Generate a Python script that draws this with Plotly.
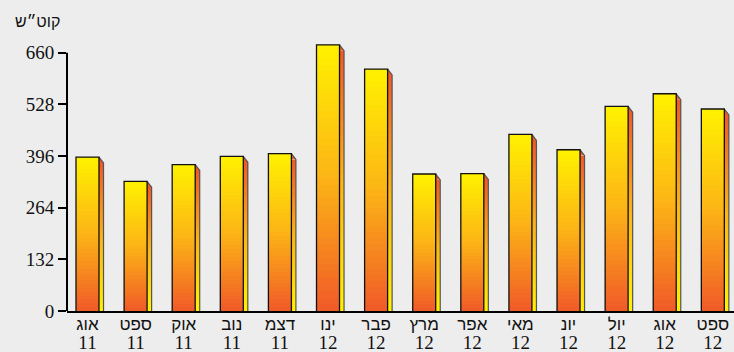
import plotly.graph_objects as go

months = ["אוג", "ספט", "אוק", "נוב", "דצמ", "ינו", "פבר", "מרץ", "אפר", "מאי", "יונ", "יול", "אוג", "ספט"]
years = ["11", "11", "11", "11", "11", "12", "12", "12", "12", "12", "12", "12", "12", "12"]
values = [393, 331, 374, 395, 402, 680, 618, 350, 351, 451, 412, 523, 555, 516]
y_ticks = [0, 132, 264, 396, 528, 660]
y_title = "קוט״ש"

n = len(values)
xs = list(range(n))

FRONT_HALF = 0.239
SIDE_W = 0.094
CHAMFER = 15  # data units

def lerp(c1, c2, t):
    return tuple(c1[i] + (c2[i] - c1[i]) * t for i in range(3))

TOP = (255, 242, 0)
MID = (252, 180, 22)
BOT = (240, 90, 40)

def grad(t):
    # t=0 bottom, t=1 top
    if t < 0.5:
        c = lerp(BOT, MID, t / 0.5)
    else:
        c = lerp(MID, TOP, (t - 0.5) / 0.5)
    return "rgb(%d,%d,%d)" % tuple(int(round(v)) for v in c)

K = 40
fig = go.Figure()

# front face gradient
for k in range(K):
    t = (k + 0.5) / K
    fig.add_trace(go.Bar(
        x=xs, y=[v / K for v in values], base=[v * k / K for v in values],
        offset=-FRONT_HALF, width=2 * FRONT_HALF,
        marker=dict(color=grad(t), line=dict(width=0)),
        hoverinfo="skip", showlegend=False))

# side face gradient (reversed)
for k in range(K):
    t = (k + 0.5) / K
    fig.add_trace(go.Bar(
        x=xs, y=[(v - CHAMFER) / K for v in values],
        base=[(v - CHAMFER) * k / K for v in values],
        offset=FRONT_HALF, width=SIDE_W,
        marker=dict(color=grad(1 - t), line=dict(width=0)),
        hoverinfo="skip", showlegend=False))

# chamfer triangles
tx, ty = [], []
for i, v in enumerate(values):
    tx += [i + FRONT_HALF, i + FRONT_HALF + SIDE_W, i + FRONT_HALF, i + FRONT_HALF, None]
    ty += [v, v - CHAMFER, v - CHAMFER, v, None]
fig.add_trace(go.Scatter(x=tx, y=ty, fill="toself", fillcolor=grad(0.0),
                         mode="none", hoverinfo="skip", showlegend=False))

# outer dark edge (chamfer, right side)
ox, oy = [], []
for i, v in enumerate(values):
    ox += [i + FRONT_HALF, i + FRONT_HALF + SIDE_W, i + FRONT_HALF + SIDE_W, None]
    oy += [v, v - CHAMFER, 0, None]
fig.add_trace(go.Scatter(x=ox, y=oy, mode="lines",
                         line=dict(color="#555", width=1.2),
                         hoverinfo="skip", showlegend=False))

# front outline (left, top, right)
fx, fy = [], []
for i, v in enumerate(values):
    fx += [i - FRONT_HALF, i - FRONT_HALF, i + FRONT_HALF, i + FRONT_HALF, None]
    fy += [0, v, v, 0, None]
fig.add_trace(go.Scatter(x=fx, y=fy, mode="lines",
                         line=dict(color="#111", width=1.3),
                         hoverinfo="skip", showlegend=False))

ticktext = [
    "<span style='font-size:17px'>%s</span><br><span style='font-family:\"Liberation Serif\", serif;font-size:19px'>%s</span>" % (m, y)
    for m, y in zip(months, years)
]

fig.update_layout(
    width=734, height=352,
    margin=dict(l=67, r=0, t=37, b=41, autoexpand=False),
    paper_bgcolor="#ededed", plot_bgcolor="#ededed",
    barmode="overlay", bargap=0,
    xaxis=dict(
        range=[-0.426, 13.44], tickmode="array", tickvals=xs, ticktext=ticktext,
        showgrid=False, zeroline=False, showline=True, linecolor="black", linewidth=2,
        ticks="", automargin=False, ticklabelstandoff=0,
        tickfont=dict(family="Liberation Sans, DejaVu Sans, sans-serif", size=14.5, color="#111"),
        fixedrange=True),
    yaxis=dict(
        range=[0, 700], tickmode="array", tickvals=y_ticks, ticktext=[str(t) for t in y_ticks],
        showgrid=False, zeroline=False, showline=False, automargin=False,
        ticks="outside", ticklen=8, tickwidth=2, tickcolor="black",
        tickfont=dict(family="Liberation Serif, serif", size=19, color="#111"),
        fixedrange=True),
    shapes=[dict(type="line", xref="paper", yref="y", x0=0, x1=0, y0=0, y1=660,
                 line=dict(color="black", width=2))],
    annotations=[dict(text=y_title, xref="paper", yref="paper", x=0, y=1.055,
                      xanchor="right", yanchor="middle", xshift=-5, showarrow=False,
                      font=dict(family="Liberation Sans, DejaVu Sans, sans-serif", size=16, color="#111"))],
)

fig.write_html("out.html")
